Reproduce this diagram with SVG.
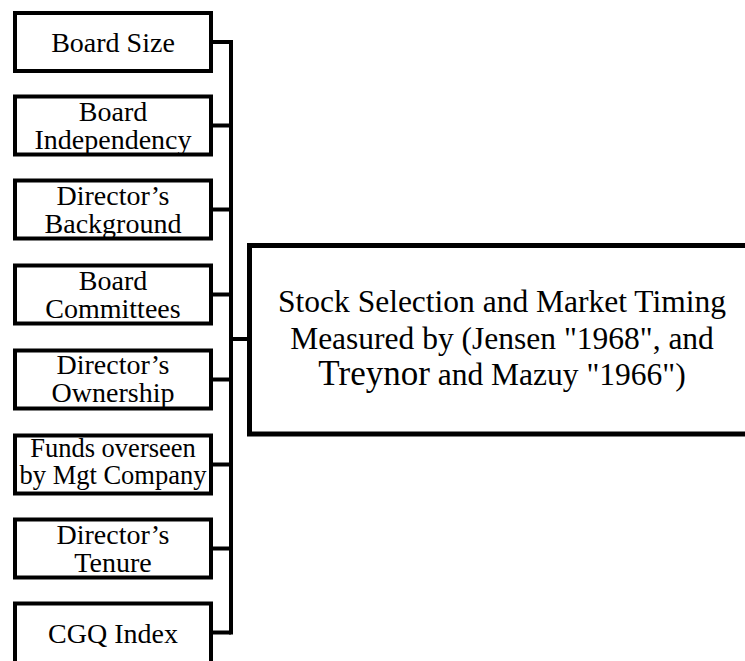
<svg xmlns="http://www.w3.org/2000/svg" width="745" height="661" viewBox="0 0 745 661">
<style>
.box{fill:#fff;stroke:#000;stroke-width:4}
.t{font-family:"Liberation Serif","Times New Roman",serif;font-size:28px;fill:#000;text-anchor:middle}
.s{font-size:26.5px}
.m{font-family:"Liberation Serif","Times New Roman",serif;font-size:31.5px;fill:#000;text-anchor:middle}
.c{stroke:#000;stroke-width:4;fill:none}
</style>
<rect width="745" height="661" fill="#fff"/>
<g id="connectors">
<path class="c" d="M211 42H231M211 125.5H231M211 209.5H231M211 294.5H231M211 379.5H231M211 464.5H231M211 548.5H231M211 632.5H231"/>
<path class="c" d="M231 40V634.5"/>
<path class="c" d="M231 339H249"/>
</g>
<g id="n1"><rect class="box" x="15" y="13" width="196" height="58"/><text class="t" x="113" y="52">Board Size</text></g>
<g id="n2"><rect class="box" x="15" y="96.5" width="196" height="58"/><text class="t" x="113" y="120.5">Board</text><text class="t" x="113" y="148.5">Independency</text></g>
<g id="n3"><rect class="box" x="15" y="180.5" width="196" height="58"/><text class="t" x="113" y="204.5">Director’s</text><text class="t" x="113" y="233">Background</text></g>
<g id="n4"><rect class="box" x="15" y="265.5" width="196" height="58"/><text class="t" x="113" y="289.5">Board</text><text class="t" x="113" y="318">Committees</text></g>
<g id="n5"><rect class="box" x="15" y="350.5" width="196" height="58"/><text class="t" x="113" y="374">Director’s</text><text class="t" x="113" y="402">Ownership</text></g>
<g id="n6"><rect class="box" x="15" y="435.5" width="196" height="58"/><text class="t s" x="113" y="457">Funds overseen</text><text class="t s" x="113" y="484">by Mgt Company</text></g>
<g id="n7"><rect class="box" x="15" y="519.5" width="196" height="58"/><text class="t" x="113" y="543.5">Director’s</text><text class="t" x="113" y="571.5">Tenure</text></g>
<g id="n8"><rect class="box" x="15" y="603.5" width="196" height="70"/><text class="t" x="113" y="642.5">CGQ Index</text></g>
<g id="main"><rect class="box" x="249.5" y="245.5" width="520" height="188.5" style="stroke-width:5"/>
<text class="m" x="502" y="312">Stock Selection and Market Timing</text>
<text class="m" x="502" y="349">Measured by (Jensen "1968", and</text>
<text class="m" x="502" y="385"><tspan font-size="35">Treynor</tspan> and Mazuy "1966")</text>
</g>
</svg>
